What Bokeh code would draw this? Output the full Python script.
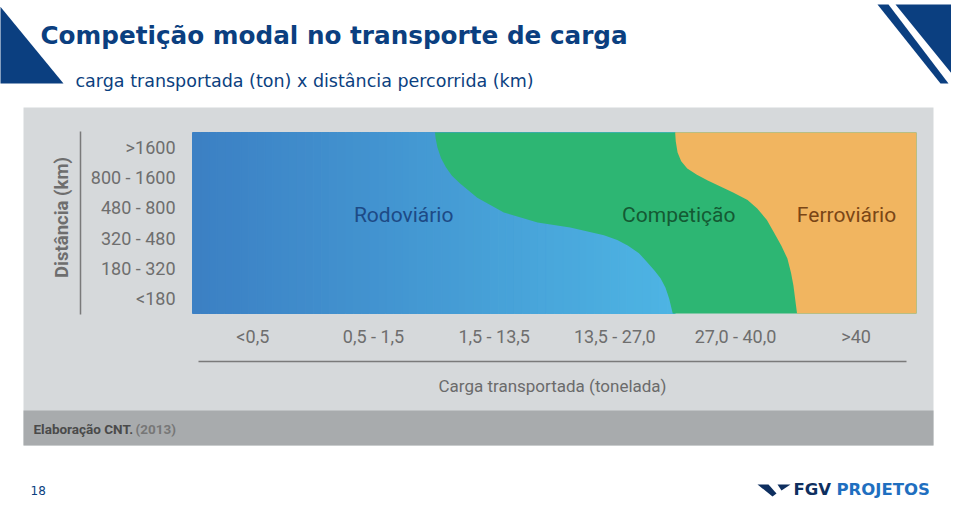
import numpy as np
from bokeh.plotting import figure
from bokeh.models import Range1d
from bokeh.core.properties import value
from bokeh.embed import file_html
from bokeh.resources import INLINE

# ---------------- data ----------------
title = "Competição modal no transporte de carga"
subtitle = "carga transportada (ton) x distância percorrida (km)"
distance_labels = ["<180", "180 - 320", "320 - 480", "480 - 800", "800 - 1600", ">1600"]  # bottom -> top
load_labels = ["<0,5", "0,5 - 1,5", "1,5 - 13,5", "13,5 - 27,0", "27,0 - 40,0", ">40"]      # left -> right
y_title = "Distância (km)"
x_title = "Carga transportada (tonelada)"
source_bold = "Elaboração CNT."
source_year = "(2013)"
page_number = "18"

regions = ["Rodoviário", "Competição", "Ferroviário"]
region_colors = ["#4a9fd8", "#2db673", "#f1b560"]
region_text_colors = ["#1d4a86", "#145a33", "#7a4616"]
region_label_x = [1.75, 4.03, 5.42]
region_label_y = [3.25, 3.28, 3.25]

# boundary Rodoviário | Competição (x in load classes, y in distance classes)
rod_comp_x = [2.01, 2.015, 2.03, 2.06, 2.10, 2.15, 2.22, 2.36, 2.58, 2.86, 3.13, 3.41, 3.52, 3.61, 3.70, 3.77, 3.83, 3.88, 3.92, 3.95, 3.98]
rod_comp_y = [6.00, 5.80, 5.50, 5.15, 4.85, 4.57, 4.30, 3.84, 3.35, 3.02, 2.85, 2.59, 2.44, 2.25, 2.00, 1.69, 1.42, 1.16, 0.85, 0.50, 0.00]
# boundary Competição | Ferroviário
comp_fer_x = [4.00, 4.005, 4.02, 4.05, 4.10, 4.18, 4.27, 4.48, 4.60, 4.68, 4.76, 4.82, 4.88, 4.93, 4.96, 4.98, 5.01]
comp_fer_y = [6.00, 5.70, 5.34, 5.05, 4.81, 4.60, 4.41, 4.01, 3.76, 3.48, 3.10, 2.68, 2.25, 1.82, 1.35, 0.93, 0.00]

# ---------------- layout helpers (page pixels -> chart units) ----------------
CW = 724 / 6.0
CH = 181 / 6.0
def X(px):
    return (px - 192) / CW
def Y(py):
    return (313 - py) / CH

p = figure(width=951, height=500,
           x_range=Range1d(X(0), X(951)), y_range=Range1d(Y(500), Y(0)),
           output_backend="svg", toolbar_location=None,
           x_axis_location=None, y_axis_location=None, min_border=0,
           outline_line_color=None, background_fill_color="white",
           border_fill_color="white")
p.xgrid.grid_line_color = None
p.ygrid.grid_line_color = None

NAVY = "#0b3f80"
LABEL_FONT = value("Roboto")

# header decorations
p.patch([X(-2), X(63), X(-2)], [Y(4), Y(83), Y(83)], color=NAVY, line_width=0)
p.patch([X(877), X(888), X(948), X(940)], [Y(4), Y(4), Y(83), Y(83)], color=NAVY, line_width=0)
p.patch([X(895), X(960), X(960)], [Y(4), Y(4), Y(84)], color=NAVY, line_width=0)

p.text(x=[X(40)], y=[Y(35)], text=[title], text_font=value("DejaVu Sans"),
       text_font_style="bold", text_font_size="24.7px", text_color=NAVY,
       text_align="left", text_baseline="alphabetic")
p.text(x=[X(75)], y=[Y(80)], text=[subtitle], text_font=value("DejaVu Sans"),
       text_font_size="17.5px", text_color=NAVY,
       text_align="left", text_baseline="alphabetic")

# gray panel
p.quad(left=X(23), right=X(933), top=Y(107), bottom=Y(445), color="#d6d9db", line_width=0)
p.quad(left=X(23), right=X(933), top=Y(410), bottom=Y(445), color="#a8abad", line_width=0)

# Rodoviário gradient (style only)
N = 60
edges = np.linspace(0, 4.0, N + 1)
c0 = np.array([60, 128, 196])
c1 = np.array([78, 181, 228])
cols = []
for i in range(N):
    t = (i + 0.5) / N
    c = (c0 + (c1 - c0) * t).astype(int)
    cols.append("#%02x%02x%02x" % tuple(c))
p.quad(left=edges[:-1], right=edges[1:], bottom=0, top=6, fill_color=cols, line_color=cols, line_width=1)

# Competição and Ferroviário regions
p.patch(rod_comp_x + [6, 6], rod_comp_y + [0, 6], fill_color=region_colors[1], line_color=None)
p.patch(comp_fer_x + [6, 6], comp_fer_y + [0, 6], fill_color=region_colors[2], line_color=None)

p.text(x=region_label_x, y=region_label_y, text=regions, text_font=LABEL_FONT,
       text_font_size="21px", text_color=region_text_colors,
       text_align="center", text_baseline="middle")

# y tick labels
p.text(x=[X(175)] * 6, y=[i + 0.5 for i in range(6)], text=distance_labels,
       text_font=LABEL_FONT, text_font_size="18px", text_color="#6e6e6e",
       text_align="right", text_baseline="middle")
# x tick labels
p.text(x=[i + 0.5 for i in range(6)], y=[Y(336)] * 6, text=load_labels,
       text_font=LABEL_FONT, text_font_size="18px", text_color="#6e6e6e",
       text_align="center", text_baseline="middle")

# axis separators
p.segment(x0=[X(80)], y0=[Y(131)], x1=[X(80)], y1=[Y(314)], line_color="#7a7a7a", line_width=1.5)
p.segment(x0=[X(198)], y0=[Y(361)], x1=[X(906)], y1=[Y(361)], line_color="#7a7a7a", line_width=1.5)

# axis titles
p.text(x=[X(61)], y=[Y(217)], text=[y_title], text_font=LABEL_FONT, text_font_style="bold",
       text_font_size="18.5px", text_color="#6e6e6e", angle=np.pi / 2,
       text_align="center", text_baseline="middle")
p.text(x=[X(552)], y=[Y(385)], text=[x_title], text_font=LABEL_FONT,
       text_font_size="17px", text_color="#6b6b6b",
       text_align="center", text_baseline="middle")

# source
p.text(x=[X(33)], y=[Y(428)], text=[source_bold], text_font=LABEL_FONT, text_font_style="bold",
       text_font_size="13.5px", text_color="#4a4a4a", text_align="left", text_baseline="middle")
p.text(x=[X(135)], y=[Y(428)], text=[source_year], text_font=LABEL_FONT, text_font_style="bold",
       text_font_size="13.5px", text_color="#777777", text_align="left", text_baseline="middle")

# footer
p.text(x=[X(30)], y=[Y(490)], text=[page_number], text_font=value("DejaVu Sans"),
       text_font_size="12px", text_color=NAVY, text_align="left", text_baseline="middle")
p.patch([X(757), X(768), X(776), X(772)], [Y(484), Y(484), Y(493), Y(496)], color="#0e2f5f", line_width=0)
p.patch([X(777), X(790), X(781)], [Y(484), Y(484), Y(490)], color="#0e2f5f", line_width=0)
p.text(x=[X(793)], y=[Y(489)], text=["FGV"], text_font=value("DejaVu Sans"), text_font_style="bold",
       text_font_size="16.5px", text_color="#0e2f5f", text_align="left", text_baseline="middle")
p.text(x=[X(836)], y=[Y(489)], text=["PROJETOS"], text_font=value("DejaVu Sans"), text_font_style="bold",
       text_font_size="16.5px", text_color="#1f6fc0", text_align="left", text_baseline="middle")

open("out.html", "w").write(file_html(p, INLINE))
